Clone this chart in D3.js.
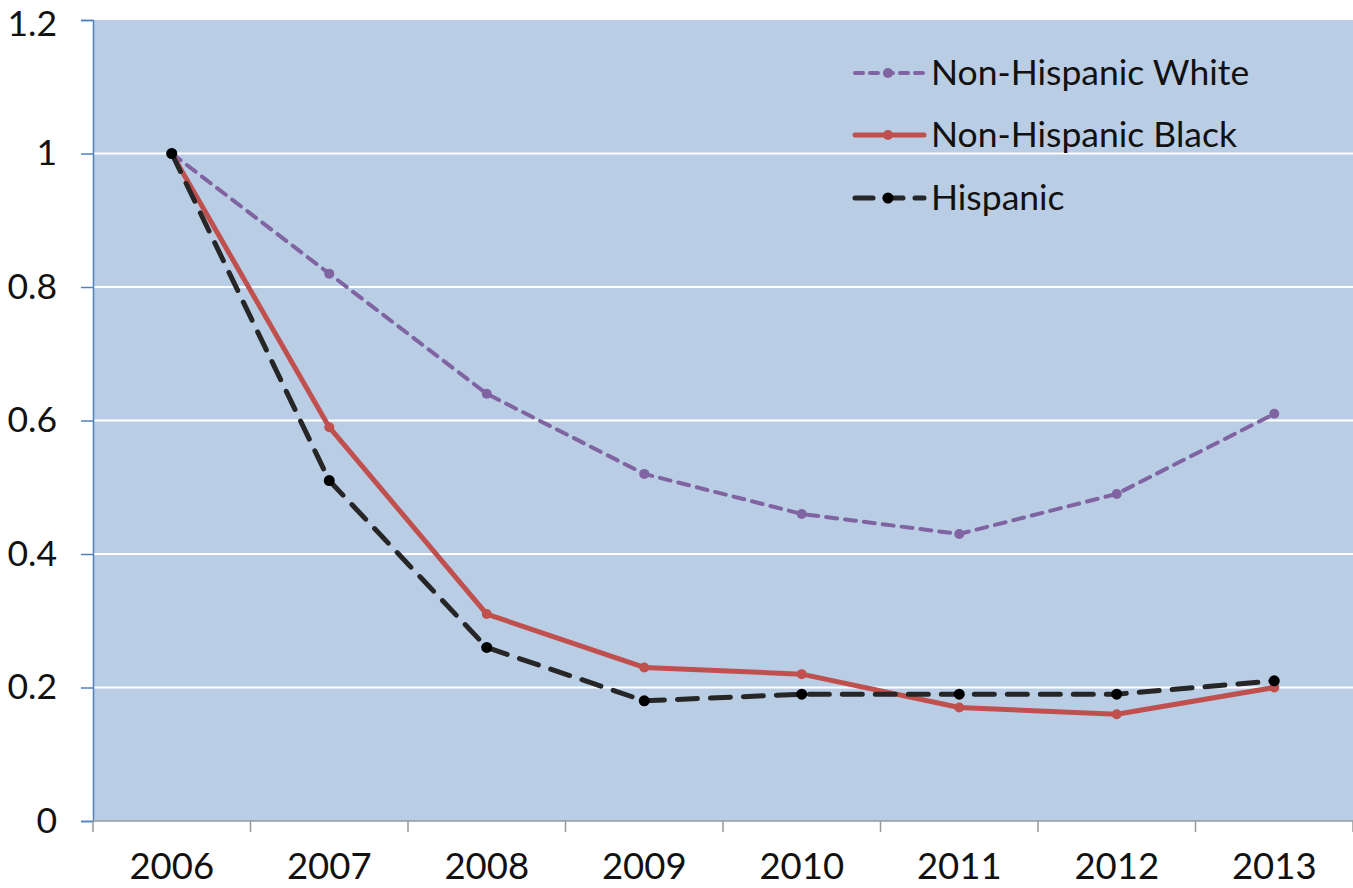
<!DOCTYPE html>
<html>
<head>
<meta charset="utf-8">
<script src="https://cdn.jsdelivr.net/npm/d3@7"></script>
<style>
  html, body { margin: 0; padding: 0; background: #fff; }
  svg text { font-family: Lato, "Open Sans", sans-serif; fill: #111; }
</style>
</head>
<body>
<svg id="chart" width="1353" height="888"></svg>
<script>
// Years on the category axis
const years = ["2006", "2007", "2008", "2009", "2010", "2011", "2012", "2013"];
// Index values (2006 = 1) per group
const whiteValues = [1, 0.82, 0.64, 0.52, 0.46, 0.43, 0.49, 0.61];
const blackValues = [1, 0.59, 0.31, 0.23, 0.22, 0.17, 0.16, 0.20];
const hispanicValues = [1, 0.51, 0.26, 0.18, 0.19, 0.19, 0.19, 0.21];
// Value axis ticks
const yTicks = [0, 0.2, 0.4, 0.6, 0.8, 1, 1.2];
const seriesNames = ["Non-Hispanic White", "Non-Hispanic Black", "Hispanic"];

const series = [
  { name: seriesNames[0], values: whiteValues, color: "#8064A2", width: 4, dash: "11,8", r: 5, marker: "#8064A2" },
  { name: seriesNames[1], values: blackValues, color: "#C0504D", width: 5, dash: null, r: 5, marker: "#C0504D" },
  { name: seriesNames[2], values: hispanicValues, color: "#262626", width: 5, dash: "20,13", r: 5.5, marker: "#000" }
];

const svg = d3.select("#chart");
const plotLeft = 93, plotRight = 1353, plotTop = 20, plotBottom = 821;
const fontStack = "Lato, 'Open Sans', sans-serif";

const x = d3.scaleBand().domain(years).range([plotLeft, plotRight]);
const y = d3.scaleLinear().domain([0, 1.2]).range([plotBottom, plotTop]);

// Plot background
svg.append("rect")
  .attr("x", plotLeft).attr("y", y(1.2))
  .attr("width", plotRight - plotLeft).attr("height", plotBottom - y(1.2))
  .attr("fill", "#B9CDE5");

// Horizontal gridlines
svg.append("g").selectAll("line")
  .data(yTicks.filter(d => d > 0 && d < 1.2))
  .join("line")
  .attr("x1", plotLeft).attr("x2", plotRight)
  .attr("y1", d => y(d)).attr("y2", d => y(d))
  .attr("stroke", "#fff").attr("stroke-width", 2);

// Value axis
const yAxis = svg.append("g").attr("transform", `translate(${plotLeft},0)`)
  .call(d3.axisLeft(y).tickValues(yTicks).tickSize(12).tickPadding(24)
    .tickFormat(d => d3.format("~g")(d)));
yAxis.select(".domain").attr("stroke", "#4F81BD").attr("stroke-width", 1.5);
yAxis.selectAll(".tick line").attr("stroke", "#4F81BD").attr("stroke-width", 1.5);
yAxis.selectAll(".tick text").attr("font-size", 35.5).attr("fill", "#111")
  .attr("font-family", fontStack)
  // keep the topmost label inside the canvas
  .attr("y", d => d === 1.2 ? 4 : 0);

// Category axis
const xAxis = svg.append("g").attr("transform", `translate(0,${plotBottom})`)
  .call(d3.axisBottom(x).tickSize(0));
xAxis.select(".domain").remove();
xAxis.selectAll(".tick text").attr("font-size", 36.5).attr("fill", "#111")
  .attr("font-family", fontStack)
  .attr("y", 58).attr("dy", "0");
svg.append("line").attr("x1", plotLeft).attr("x2", plotRight)
  .attr("y1", plotBottom).attr("y2", plotBottom)
  .attr("stroke", "#999").attr("stroke-width", 1.5);
svg.append("g").selectAll("line")
  .data(d3.range(years.length + 1))
  .join("line")
  .attr("x1", i => plotLeft + i * x.step()).attr("x2", i => plotLeft + i * x.step())
  .attr("y1", plotBottom).attr("y2", plotBottom + 11)
  .attr("stroke", "#999").attr("stroke-width", 1.5);

// Lines and markers
const line = d3.line()
  .x((d, i) => x(years[i]) + x.bandwidth() / 2)
  .y(d => y(d));

series.forEach(s => {
  const g = svg.append("g");
  g.append("path")
    .attr("d", line(s.values))
    .attr("fill", "none")
    .attr("stroke", s.color)
    .attr("stroke-width", s.width)
    .attr("stroke-dasharray", s.dash)
    .attr("stroke-linecap", "round")
    .attr("stroke-linejoin", "round");
  g.selectAll("circle")
    .data(s.values)
    .join("circle")
    .attr("cx", (d, i) => x(years[i]) + x.bandwidth() / 2)
    .attr("cy", d => y(d))
    .attr("r", s.r)
    .attr("fill", s.marker);
});

// Legend
const legend = svg.append("g");
const legendY = [73, 135, 198];
series.forEach((s, i) => {
  const ly = legendY[i];
  legend.append("line")
    .attr("x1", 855).attr("x2", 924)
    .attr("y1", ly).attr("y2", ly)
    .attr("stroke", s.color).attr("stroke-width", s.width)
    .attr("stroke-dasharray", s.dash ? (i === 0 ? "8,7" : "18,12") : null)
    .attr("stroke-linecap", "round");
  legend.append("circle")
    .attr("cx", 888).attr("cy", ly).attr("r", s.r).attr("fill", s.marker);
  legend.append("text")
    .attr("x", 931).attr("y", ly + 12)
    .attr("font-size", 35.5)
    .text(s.name);
});
</script>
</body>
</html>
